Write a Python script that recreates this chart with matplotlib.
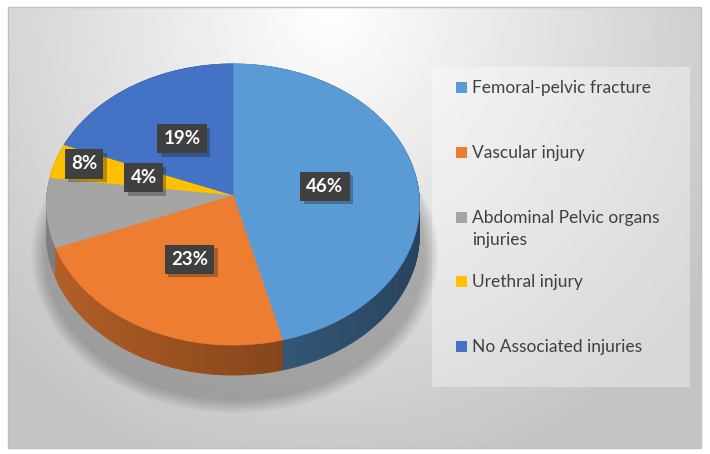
import matplotlib.pyplot as plt
import matplotlib.patheffects as pe
import numpy as np
from matplotlib.patches import Polygon, Rectangle, Ellipse

# chart data
categories = ["Femoral-pelvic fracture", "Vascular injury",
              "Abdominal Pelvic organs\ninjuries", "Urethral injury",
              "No Associated injuries"]
values = [46, 23, 8, 4, 19]
colors = ["#5B9BD5", "#ED7D31", "#A5A5A5", "#FFC000", "#4472C4"]

# label placement (radius fraction, angle nudge in degrees)
label_r = [0.5, 0.5, 0.844, 0.5, 0.5]
label_shift = [0, 0, 22.7, 0, 0]

# pie geometry in pixels
cx, cy = 233, 195
a, b, k = 186, 139.9, 0.0676
depth = 30

def proj(theta, r=1.0, z=0.0):
    t = np.radians(theta)
    u = r * np.sin(t)
    v = -r * np.cos(t)
    d = 1 - k * v
    return cx + a * u / d, cy + b * v / d + z

def hex2rgb(h):
    h = h.lstrip("#")
    return np.array([int(h[i:i + 2], 16) for i in (0, 2, 4)]) / 255.0

fig = plt.figure(figsize=(7.1, 4.54), dpi=100)
ax = fig.add_axes([0, 0, 1, 1])
ax.set_xlim(0, 710)
ax.set_ylim(454, 0)
ax.axis("off")

# background with radial gradient
x0, x1, y0, y1 = 8, 701, 7, 448
xx, yy = np.meshgrid(np.linspace(x0, x1, 400), np.linspace(y0, y1, 260))
dist = np.sqrt(((xx - 330) / 400) ** 2 + ((yy - 10) / 420) ** 2)
shade = 1 - 0.23 * np.clip(dist, 0, 1.15) / 1.15
img = np.dstack([shade, shade, shade])
ax.imshow(img, extent=(x0, x1, y1, y0), zorder=0, interpolation="bilinear")
ax.add_patch(Rectangle((x0, y0), x1 - x0, y1 - y0, fill=False,
                       edgecolor="#bfbfbf", lw=1, zorder=1))

# legend panel
ax.add_patch(Rectangle((432, 67), 258, 320, facecolor="white", alpha=0.35,
                       edgecolor="none", zorder=1))

# soft shadow under the pie
for i in range(10):
    ax.add_patch(Ellipse((cx + 2, cy + 30 + depth), 2 * a + 8 + i * 3,
                         2 * b + 10 + i * 3, facecolor="black",
                         alpha=0.025, edgecolor="none", zorder=1))

# slice angles
starts = np.concatenate([[0], np.cumsum(values)[:-1]]) / sum(values) * 360
ends = np.cumsum(values) / sum(values) * 360

# outer walls, drawn back to front
segs = []
for i, (s, e) in enumerate(zip(starts, ends)):
    ts = np.linspace(s, e, max(int(e - s), 2) + 1)
    for t0, t1 in zip(ts[:-1], ts[1:]):
        p0 = proj(t0)
        p1 = proj(t1)
        tm = 0.5 * (t0 + t1)
        vm = -np.cos(np.radians(tm))
        um = np.sin(np.radians(tm))
        f = 0.60 - 0.17 * um
        col = np.clip(hex2rgb(colors[i]) * f, 0, 1)
        quad = [p0, p1, (p1[0], p1[1] + depth), (p0[0], p0[1] + depth)]
        segs.append((vm, quad, col))
segs.sort(key=lambda s: s[0])
for vm, quad, col in segs:
    ax.add_patch(Polygon(quad, closed=True, facecolor=col, edgecolor=col,
                         lw=0.6, zorder=2))

# top faces
for i, (s, e) in enumerate(zip(starts, ends)):
    ts = np.linspace(s, e, int(e - s) * 2 + 2)
    pts = [(cx, cy)] + [proj(t) for t in ts]
    ax.add_patch(Polygon(pts, closed=True, facecolor=colors[i],
                         edgecolor=colors[i], lw=0.5, zorder=3))

# data labels
for i, (s, e) in enumerate(zip(starts, ends)):
    tm = 0.5 * (s + e) + label_shift[i]
    lx, ly = proj(tm, label_r[i])
    t = ax.text(lx, ly, "%d%%" % values[i], ha="center", va="center",
                fontsize=13.5, fontweight="bold", family="Lato",
                color="white", zorder=5,
                bbox=dict(boxstyle="square,pad=0.33", facecolor="#404040",
                          edgecolor="none"))
    t.get_bbox_patch().set_path_effects(
        [pe.SimplePatchShadow(offset=(2.5, -2.5), alpha=0.3), pe.Normal()])

# legend entries
baselines = [93, 158, 223, 287, 352]
for i, name in enumerate(categories):
    yb = baselines[i]
    ax.add_patch(Rectangle((456, yb - 11), 11, 11, facecolor=colors[i],
                           edgecolor="none", zorder=5))
    for j, line in enumerate(name.split("\n")):
        ax.text(472, yb + 22 * j, line, ha="left", va="baseline",
                fontsize=12.5, family="Lato", color="#404040", zorder=5)

fig.savefig("out.png", dpi=100)
